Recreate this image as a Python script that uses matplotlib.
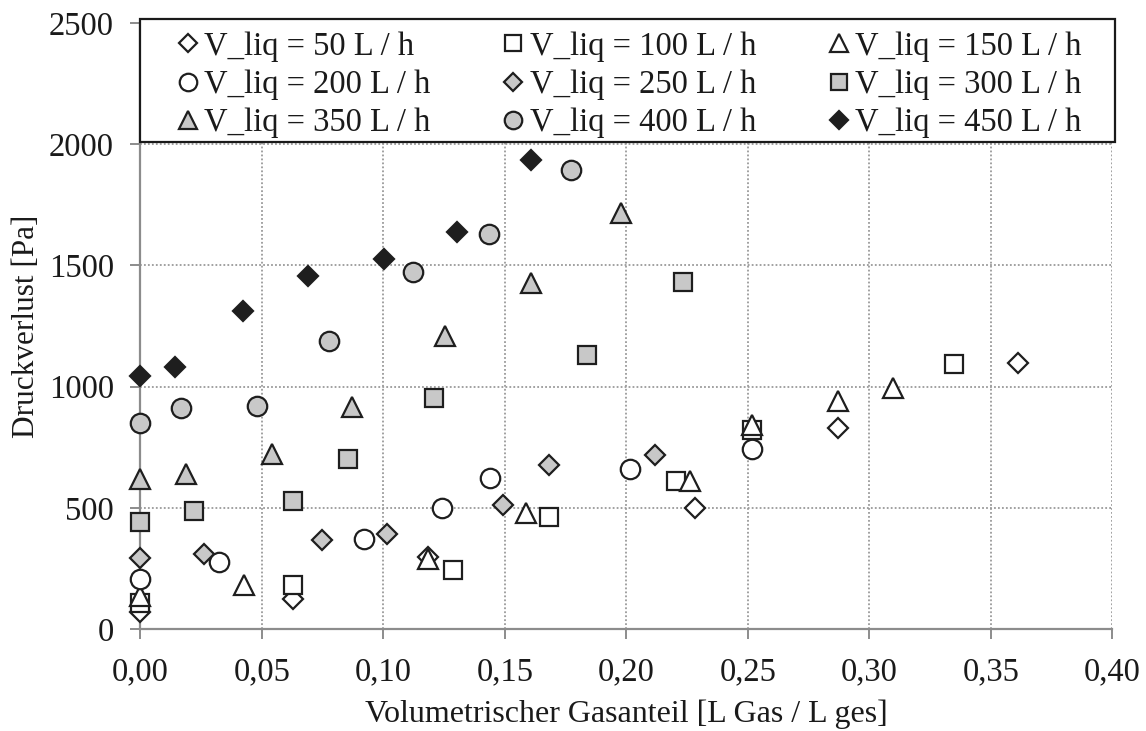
import matplotlib
matplotlib.use("Agg")
import matplotlib.pyplot as plt
from matplotlib.patches import Rectangle
from matplotlib.ticker import FuncFormatter, MultipleLocator

plt.rcParams['font.family'] = ['Liberation Serif', 'DejaVu Serif']

# ---- data ----
x50 = [0.0, 0.0628, 0.1185, 0.2283, 0.2871, 0.361]
y50 = [73, 123, 300, 502, 831, 1097]
x100 = [0.0, 0.0628, 0.1288, 0.1681, 0.2204, 0.2519, 0.335]
y100 = [108, 182, 243, 461, 611, 823, 1095]
x150 = [0.0, 0.0426, 0.1185, 0.1587, 0.2262, 0.2519, 0.2871, 0.3097]
y150 = [136, 182, 288, 481, 611, 841, 941, 996]
x200 = [0.0, 0.0323, 0.0919, 0.1242, 0.1439, 0.2016, 0.2519]
y200 = [206, 277, 374, 500, 625, 662, 743]
x250 = [0.0, 0.0261, 0.0749, 0.1014, 0.1493, 0.168, 0.2119]
y250 = [296, 309, 370, 391, 514, 679, 717]
x300 = [0.0, 0.0219, 0.0628, 0.0855, 0.1207, 0.1836, 0.2233]
y300 = [441, 487, 529, 700, 955, 1130, 1430]
x350 = [0.0, 0.0188, 0.054, 0.087, 0.1252, 0.1608, 0.1978]
y350 = [621, 639, 724, 916, 1211, 1426, 1718]
x400 = [0.0, 0.0166, 0.0479, 0.0776, 0.1121, 0.1436, 0.1773]
y400 = [850, 914, 919, 1190, 1473, 1630, 1893]
x450 = [0.0, 0.014, 0.0422, 0.0691, 0.1002, 0.1302, 0.1608]
y450 = [1046, 1083, 1313, 1455, 1525, 1638, 1934]

labels = ["V_liq = 50 L / h", "V_liq = 100 L / h", "V_liq = 150 L / h",
          "V_liq = 200 L / h", "V_liq = 250 L / h", "V_liq = 300 L / h",
          "V_liq = 350 L / h", "V_liq = 400 L / h", "V_liq = 450 L / h"]

EDGE = '#1e1e1e'
GRAY = '#c8c8c8'
series = [
    (x50, y50, 'D', 'white', 10.2),
    (x100, y100, 's', 'white', 13.5),
    (x150, y150, '^', 'white', 14),
    (x200, y200, 'o', 'white', 14),
    (x250, y250, 'D', GRAY, 10.2),
    (x300, y300, 's', GRAY, 13.5),
    (x350, y350, '^', GRAY, 14),
    (x400, y400, 'o', GRAY, 14),
    (x450, y450, 'D', EDGE, 10.2),
]

fig = plt.figure(figsize=(11.46, 7.31), dpi=100)
ax = fig.add_axes([0.1226, 0.1391, 0.8480, 0.8297])

handles = []
for (xs, ys, m, fc, ms), lab in zip(series, labels):
    h, = ax.plot(xs, ys, linestyle='none', marker=m, markersize=ms,
                 markerfacecolor=fc, markeredgecolor=EDGE, markeredgewidth=1.6,
                 label=lab, zorder=3, clip_on=False)
    handles.append(h)

ax.set_xlim(0, 0.40)
ax.set_ylim(0, 2500)
ax.xaxis.set_major_locator(MultipleLocator(0.05))
ax.yaxis.set_major_locator(MultipleLocator(500))
ax.xaxis.set_major_formatter(FuncFormatter(lambda v, p: f"{v:.2f}".replace('.', ',')))
ax.yaxis.set_major_formatter(FuncFormatter(lambda v, p: f"{int(round(v))}"))

ax.grid(True, linestyle=(0, (1, 1.2)), color='#9a9a9a', linewidth=1.3, zorder=0)
ax.set_axisbelow(True)
for s in ['top', 'right']:
    ax.spines[s].set_visible(False)
for s in ['left', 'bottom']:
    ax.spines[s].set_color('#8c8c8c')
    ax.spines[s].set_linewidth(1.6)
ax.tick_params(axis='both', direction='out', length=7, width=1.4, color='#8c8c8c',
               labelsize=23.5, labelcolor='#1a1a1a')
ax.tick_params(axis='y', pad=12)
ax.tick_params(axis='x', pad=12.5)

ax.set_xlabel("Volumetrischer Gasanteil [L Gas / L ges]", fontsize=23, color='#1a1a1a', labelpad=9)
ax.set_ylabel("Druckverlust [Pa]", fontsize=22.5, color='#1a1a1a', labelpad=6)

# legend frame
rect = Rectangle((0.0, 0.804), 1.003, 0.202, transform=ax.transAxes,
                 facecolor='white', edgecolor='#1a1a1a', linewidth=1.6,
                 zorder=4, clip_on=False)
ax.add_patch(rect)

order = [0, 3, 6, 1, 4, 7, 2, 5, 8]
leg = ax.legend([handles[i] for i in order], [labels[i] for i in order],
                ncol=3, mode='expand', loc='upper left',
                bbox_to_anchor=(0.0386, 0.986, 0.930, 0.0),
                frameon=False, fontsize=23.5, borderpad=0, borderaxespad=0,
                handlelength=0.6, handletextpad=0.2, labelspacing=0.24,
                markerscale=0.9, columnspacing=0.5)
leg.set_zorder(5)
for t in leg.get_texts():
    t.set_color('#1a1a1a')

fig.savefig("out.png", dpi=100)
